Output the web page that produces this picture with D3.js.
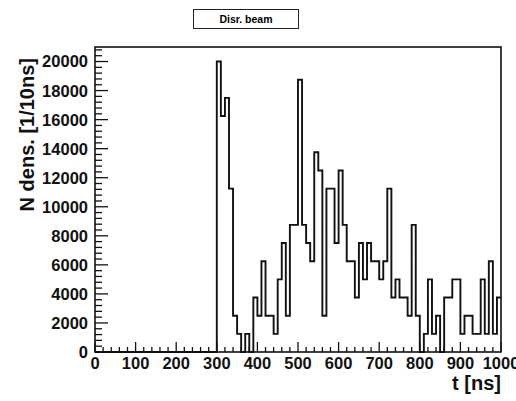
<!DOCTYPE html>
<meta charset="utf-8">

<style type="text/css">

    body {
        margin: 0;
        background: #fff;
    }

    svg {
        display: block;
        font-family: "Liberation Sans", Arial, sans-serif;
        font-weight: bold;
    }

    .frame {
        fill: none;
        stroke: #111;
        stroke-width: 1.6px;
    }

    .hist {
        fill: none;
        stroke: #111;
        stroke-width: 1.9px;
    }

    .tick-line {
        stroke: #111;
        stroke-width: 1.3px;
    }

    .tick-label {
        font-size: 16.5px;
        fill: #111;
    }

    .axis-title {
        font-size: 20px;
        fill: #111;
    }

</style>

<body></body>

<script src="https://d3js.org/d3.v7.min.js"></script>

<script>

// histogram bins, 10 ns wide, lower edges
var binEdges = [0, 10, 20, 30, 40, 50, 60, 70, 80, 90,
    100, 110, 120, 130, 140, 150, 160, 170, 180, 190,
    200, 210, 220, 230, 240, 250, 260, 270, 280, 290,
    300, 310, 320, 330, 340, 350, 360, 370, 380, 390,
    400, 410, 420, 430, 440, 450, 460, 470, 480, 490,
    500, 510, 520, 530, 540, 550, 560, 570, 580, 590,
    600, 610, 620, 630, 640, 650, 660, 670, 680, 690,
    700, 710, 720, 730, 740, 750, 760, 770, 780, 790,
    800, 810, 820, 830, 840, 850, 860, 870, 880, 890,
    900, 910, 920, 930, 940, 950, 960, 970, 980, 990];

var density = [0, 0, 0, 0, 0, 0, 0, 0, 0, 0,
    0, 0, 0, 0, 0, 0, 0, 0, 0, 0,
    0, 0, 0, 0, 0, 0, 0, 0, 0, 0,
    20000, 16250, 17500, 11250, 2500, 1250, 0, 1250, 0, 3750,
    2500, 6250, 2500, 2500, 1250, 5000, 7500, 2500, 8750, 8750,
    18750, 8750, 7500, 6250, 13750, 12500, 2500, 11250, 11250, 7500,
    12500, 8750, 6250, 6250, 3750, 7500, 5000, 7500, 6250, 6250,
    5000, 6250, 11250, 3750, 5000, 3750, 3750, 2500, 8750, 2500,
    0, 1250, 5000, 1250, 2500, 0, 3750, 3750, 5000, 5000,
    1250, 2500, 2500, 1250, 1250, 5000, 1250, 6250, 1250, 3750];

var xTicks = [0, 100, 200, 300, 400, 500, 600, 700, 800, 900, 1000];
var yTicks = [0, 2000, 4000, 6000, 8000, 10000, 12000, 14000, 16000, 18000, 20000];

var title = "Disr. beam";
var xTitle = "t [ns]";
var yTitle = "N dens. [1/10ns]";

var width = 516, height = 401;
var margin = {top: 47, right: 15, bottom: 49, left: 95};

var w = width - margin.left - margin.right,
    h = height - margin.top - margin.bottom;

var svg = d3.select("body").append("svg")
    .attr("width", width)
    .attr("height", height);

var g = svg.append("g")
    .attr("transform", "translate(" + margin.left + "," + margin.top + ")");

var xscale = d3.scaleLinear()
    .domain([0, 1000])
    .range([0, w]);

var yscale = d3.scaleLinear()
    .domain([0, 21000])
    .range([h, 0]);

// minor ticks: 5 per x division, 5 per y division
var xMinor = d3.range(0, 1001, 20);
var yMinor = d3.range(0, 21000, 400);

g.selectAll(".xminor")
    .data(xMinor)
    .enter().append("line")
    .attr("class", "tick-line")
    .attr("x1", function(d) { return xscale(d); })
    .attr("x2", function(d) { return xscale(d); })
    .attr("y1", h)
    .attr("y2", function(d) { return xTicks.indexOf(d) >= 0 ? h - 10 : h - 5; });

g.selectAll(".yminor")
    .data(yMinor)
    .enter().append("line")
    .attr("class", "tick-line")
    .attr("y1", function(d) { return yscale(d); })
    .attr("y2", function(d) { return yscale(d); })
    .attr("x1", 0)
    .attr("x2", function(d) { return yTicks.indexOf(d) >= 0 ? 13 : 7; });

g.selectAll(".xlabel")
    .data(xTicks)
    .enter().append("text")
    .attr("class", "tick-label")
    .attr("x", function(d) { return xscale(d); })
    .attr("y", h + 17)
    .attr("text-anchor", "middle")
    .text(function(d) { return d; });

g.selectAll(".ylabel")
    .data(yTicks)
    .enter().append("text")
    .attr("class", "tick-label")
    .attr("x", -7)
    .attr("y", function(d) { return yscale(d); })
    .attr("dy", "0.36em")
    .attr("text-anchor", "end")
    .text(function(d) { return d; });

// histogram outline as a staircase
var pts = binEdges.map(function(e, i) { return [e, density[i]]; });
pts.push([1000, density[density.length - 1]]);

var line = d3.line()
    .x(function(d) { return xscale(d[0]); })
    .y(function(d) { return yscale(d[1]); })
    .curve(d3.curveStepAfter);

g.append("path")
    .datum(pts)
    .attr("class", "hist")
    .attr("d", line);

g.append("rect")
    .attr("class", "frame")
    .attr("width", w)
    .attr("height", h);

svg.append("text")
    .attr("class", "axis-title")
    .attr("x", margin.left + w)
    .attr("y", height - 11)
    .attr("text-anchor", "end")
    .text(xTitle);

svg.append("text")
    .attr("class", "axis-title")
    .attr("transform", "translate(34," + (margin.top + 11) + ") rotate(-90)")
    .attr("text-anchor", "end")
    .text(yTitle);

// title box
svg.append("rect")
    .attr("x", 193.5)
    .attr("y", 9.5)
    .attr("width", 105)
    .attr("height", 19)
    .attr("fill", "#fff")
    .attr("stroke", "#222")
    .attr("stroke-width", 1);

svg.append("text")
    .attr("x", 246)
    .attr("y", 23)
    .attr("text-anchor", "middle")
    .style("font-size", "10.5px")
    .text(title);

</script>
